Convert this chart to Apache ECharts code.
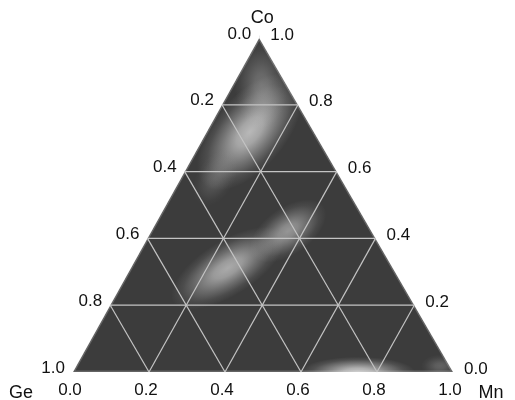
<!DOCTYPE html>
<html>
<head>
<meta charset="utf-8">
<script src="https://cdn.jsdelivr.net/npm/echarts@6/dist/echarts.min.js"></script>
<style>
  html, body { margin: 0; padding: 0; background: #ffffff; }
  #chart { width: 515px; height: 400px; }
</style>
</head>
<body>
<div id="chart"></div>
<script>
// ---- data ----
const componentNames = ['Ge', 'Mn', 'Co'];
const tickValues = [0.0, 0.2, 0.4, 0.6, 0.8, 1.0];
const gridValues = [0.2, 0.4, 0.6, 0.8];

// bright density regions (ternary fractions Ge + Mn + Co = 1)
const regionGe    = [0.168, 0.434, 0.219, 0.250, 0.066, 0.025, 0.330];
const regionMn    = [0.113, 0.255, 0.359, 0.750, 0.074, 0.957, 0.090];
const regionCo    = [0.719, 0.311, 0.422, 0.000, 0.860, 0.018, 0.580];
const regionLevel = [0.72, 0.64, 0.52, 0.80, 0.30, 0.22, 0.18];
const regionSpreadLong  = [0.185, 0.170, 0.115, 0.150, 0.115, 0.050, 0.080];
const regionSpreadShort = [0.095, 0.072, 0.062, 0.040, 0.070, 0.030, 0.050];
const regionTilt  = [50, 32, 35, 0, 90, 0, 60];

// ---- rendering ----
const APEX_SHIFT = 0.49;
function toXY(mn, co) { return [mn + APEX_SHIFT * co, co]; }

const chart = echarts.init(document.getElementById('chart'), null, { renderer: 'canvas' });
const FONT = '"Liberation Sans", Arial, Helvetica, sans-serif';

function polygonSeries(id, z, pts, fill, stroke) {
  return {
    type: 'custom', id: id, z: z, silent: true,
    coordinateSystem: 'cartesian2d',
    data: [0],
    renderItem: function (params, api) {
      const style = { fill: fill };
      if (stroke) { style.stroke = stroke; style.lineWidth = 3; }
      return {
        type: 'polygon',
        shape: { points: pts.map(p => api.coord(p)) },
        style: style
      };
    }
  };
}

const regionData = regionGe.map((g, i) => [i]);

const option = {
  animation: false,
  grid: { left: 73, top: 38, width: 380, height: 334 },
  xAxis: { type: 'value', min: 0, max: 1, show: false },
  yAxis: { type: 'value', min: 0, max: 1, show: false },
  series: [
    // triangle body
    polygonSeries('body', 1, [toXY(0, 0), toXY(1, 0), toXY(0, 1)], '#3c3c3c', 'rgba(110,110,110,0.8)'),
    // density glows
    {
      type: 'custom', id: 'glow', z: 2, silent: true,
      coordinateSystem: 'cartesian2d',
      data: regionData,
      renderItem: function (params, api) {
        const i = api.value(0);
        const c = api.coord(toXY(regionMn[i], regionCo[i]));
        const side = api.size([1, 0])[0];
        const R = 50;
        const a = regionLevel[i];
        return {
          type: 'circle',
          x: c[0], y: c[1],
          rotation: regionTilt[i] * Math.PI / 180,
          scaleX: regionSpreadLong[i] * side / R,
          scaleY: regionSpreadShort[i] * side / R,
          shape: { cx: 0, cy: 0, r: R },
          style: {
            fill: {
              type: 'radial', x: 0.5, y: 0.5, r: 0.5,
              colorStops: [
                { offset: 0, color: 'rgba(232,232,232,' + a + ')' },
                { offset: 0.25, color: 'rgba(232,232,232,' + (a * 0.85) + ')' },
                { offset: 0.55, color: 'rgba(232,232,232,' + (a * 0.45) + ')' },
                { offset: 0.8, color: 'rgba(232,232,232,' + (a * 0.14) + ')' },
                { offset: 1, color: 'rgba(232,232,232,0)' }
              ]
            }
          }
        };
      }
    },
    // white masks outside triangle
    polygonSeries('maskL', 3, [toXY(0, 0), [APEX_SHIFT, 1], [APEX_SHIFT, 1.3], [-0.3, 1.3], [-0.3, 0]], '#ffffff'),
    polygonSeries('maskR', 3, [toXY(1, 0), [APEX_SHIFT, 1], [APEX_SHIFT, 1.3], [1.3, 1.3], [1.3, 0]], '#ffffff'),
    polygonSeries('maskB', 3, [[-0.3, 0], [1.3, 0], [1.3, -0.3], [-0.3, -0.3]], '#ffffff'),
    // grid lines
    {
      type: 'custom', id: 'gridlines', z: 4, silent: true,
      coordinateSystem: 'cartesian2d',
      data: gridValues.map(v => [v]),
      renderItem: function (params, api) {
        const v = api.value(0);
        const segs = [
          [toXY(0, v), toXY(1 - v, v)],          // Co constant
          [toXY(v, 0), toXY(v, 1 - v)],          // Mn constant
          [toXY(1 - v, 0), toXY(0, 1 - v)]       // Ge constant
        ];
        return {
          type: 'group',
          children: segs.map(s => {
            const p1 = api.coord(s[0]), p2 = api.coord(s[1]);
            return {
              type: 'line',
              shape: { x1: p1[0], y1: p1[1], x2: p2[0], y2: p2[1] },
              style: { stroke: '#c4c4c4', lineWidth: 1.2 }
            };
          })
        };
      }
    },
    // tick labels
    {
      type: 'custom', id: 'ticks', z: 5, silent: true,
      coordinateSystem: 'cartesian2d',
      data: tickValues.map(v => [v]),
      renderItem: function (params, api) {
        const v = api.value(0);
        const txt = v.toFixed(1);
        const pL = api.coord(toXY(0, 1 - v));   // Ge side (left)
        const pR = api.coord(toXY(1 - v, v));   // Co side (right)
        const pB = api.coord(toXY(v, 0));       // Mn side (bottom)
        const st = { fill: '#111', font: '17px ' + FONT };
        return {
          type: 'group',
          children: [
            { type: 'text', x: pL[0] - 8, y: pL[1] - 4,
              style: Object.assign({ text: txt, align: 'right', verticalAlign: 'middle' }, st) },
            { type: 'text', x: pR[0] + 11, y: pR[1] - 3,
              style: Object.assign({ text: txt, align: 'left', verticalAlign: 'middle' }, st) },
            { type: 'text', x: pB[0] - 3, y: pB[1] + 18,
              style: Object.assign({ text: txt, align: 'center', verticalAlign: 'middle' }, st) }
          ]
        };
      }
    },
    // component names
    {
      type: 'custom', id: 'names', z: 5, silent: true,
      coordinateSystem: 'cartesian2d',
      data: [0],
      renderItem: function (params, api) {
        const pGe = api.coord(toXY(0, 0));
        const pMn = api.coord(toXY(1, 0));
        const pCo = api.coord(toXY(0, 1));
        const st = { fill: '#111', font: '18px ' + FONT, align: 'center', verticalAlign: 'middle' };
        return {
          type: 'group',
          children: [
            { type: 'text', x: pGe[0] - 52, y: pGe[1] + 21, style: Object.assign({ text: componentNames[0] }, st) },
            { type: 'text', x: pMn[0] + 38, y: pMn[1] + 21, style: Object.assign({ text: componentNames[1] }, st) },
            { type: 'text', x: pCo[0] + 3, y: pCo[1] - 20, style: Object.assign({ text: componentNames[2] }, st) }
          ]
        };
      }
    }
  ]
};
chart.setOption(option);
</script>
</body>
</html>
